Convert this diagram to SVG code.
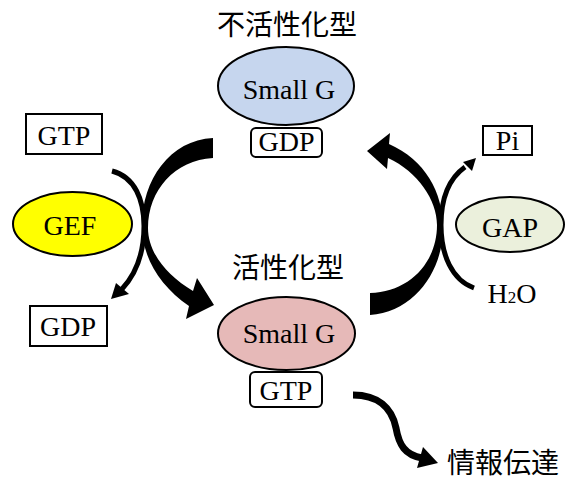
<svg xmlns="http://www.w3.org/2000/svg" width="566" height="480" viewBox="0 0 566 480">
<style>
.lat{font-family:"Liberation Serif","Times New Roman",serif;font-size:28px;fill:#000;text-anchor:middle}
.cjk{font-family:"Noto Sans CJK JP","Noto Sans CJK SC",sans-serif;font-size:28px;fill:#000;text-anchor:middle}
.ell{stroke:#000;stroke-width:2}
.box{fill:#fff;stroke:#000;stroke-width:2}
.arr{fill:#000;stroke:none}
.ln{fill:none;stroke:#000}
</style>
<rect width="566" height="480" fill="#fff"/>

<g id="connectors">
  <!-- left big arrow (inactive -> active) -->
  <path class="arr" d="M 213 138 C 170 140, 142 180, 142 225 C 142 258, 160 286, 189 306 L 186 319 L 214 305 L 197 278 L 193 291 C 166 275, 148 252, 148 228 C 148 190, 175 160, 213 158 Z"/>
  <!-- left thin arrow (GTP in, GDP out) -->
  <path class="ln" stroke-width="5" d="M 112 171 C 135 177, 144 200, 144 226 C 144 254, 136 274, 122 289"/>
  <path class="arr" d="M 111 299 L 116 283 L 129 294 Z"/>
  <!-- right big arrow (active -> inactive) -->
  <path class="arr" d="M 370 315 C 415 312, 443 270, 443 228 C 443 192, 425 160, 389 144 L 390 133 L 367 151 L 387 169 L 388 158 C 418 172, 437 200, 437 225 C 437 262, 410 292, 370 293 Z"/>
  <!-- right thin arrow (H2O in, Pi out) -->
  <path class="ln" stroke-width="5" d="M 474 288 C 452 280, 441 255, 441 225 C 441 195, 451 177, 465 167"/>
  <path class="arr" d="M 476 158 L 463 162 L 472 171 Z"/>
  <!-- signal arrow -->
  <path class="ln" stroke-width="7" d="M 353 395 C 378 395, 392 408, 396 428 C 399 445, 405 455, 422 458"/>
  <path class="arr" d="M 438 463 L 423 447 L 417 468 Z"/>
</g>

<g id="inactive">
  <text class="cjk" x="287" y="35">不活性化型</text>
  <ellipse class="ell" cx="286" cy="86" rx="68" ry="39" fill="#c6d6ee"/>
  <text class="lat" x="289" y="99">Small G</text>
  <rect class="box" x="251" y="128" width="71" height="29" rx="5"/>
  <text class="lat" x="286.5" y="151" font-size="27">GDP</text>
</g>

<g id="active">
  <text class="cjk" x="288" y="278">活性化型</text>
  <ellipse class="ell" cx="286.5" cy="333.5" rx="68.5" ry="36.5" fill="#e6b9b8"/>
  <text class="lat" x="289" y="343">Small G</text>
  <rect class="box" x="250" y="372" width="72" height="35" rx="5"/>
  <text class="lat" x="286" y="400" font-size="27">GTP</text>
</g>

<g id="gef">
  <ellipse class="ell" cx="72.5" cy="224" rx="59.5" ry="32" fill="#ffff00"/>
  <text class="lat" x="70" y="235">GEF</text>
</g>

<g id="gap">
  <ellipse class="ell" cx="510" cy="224.5" rx="54" ry="27.5" fill="#ebf0dc"/>
  <text class="lat" x="510" y="237">GAP</text>
</g>

<g id="gtp-in">
  <rect class="box" x="26" y="114" width="76" height="40"/>
  <text class="lat" x="64" y="145">GTP</text>
</g>

<g id="gdp-out">
  <rect class="box" x="30" y="306" width="77" height="40"/>
  <text class="lat" x="68" y="336">GDP</text>
</g>

<g id="pi">
  <rect class="box" x="483" y="126" width="49" height="29"/>
  <text class="lat" x="507.5" y="150" font-size="29">Pi</text>
</g>

<g id="h2o">
  <text class="lat" x="512" y="303">H<tspan font-size="17">2</tspan>O</text>
</g>

<g id="signal">
  <text class="cjk" x="503" y="473">情報伝達</text>
</g>
</svg>
